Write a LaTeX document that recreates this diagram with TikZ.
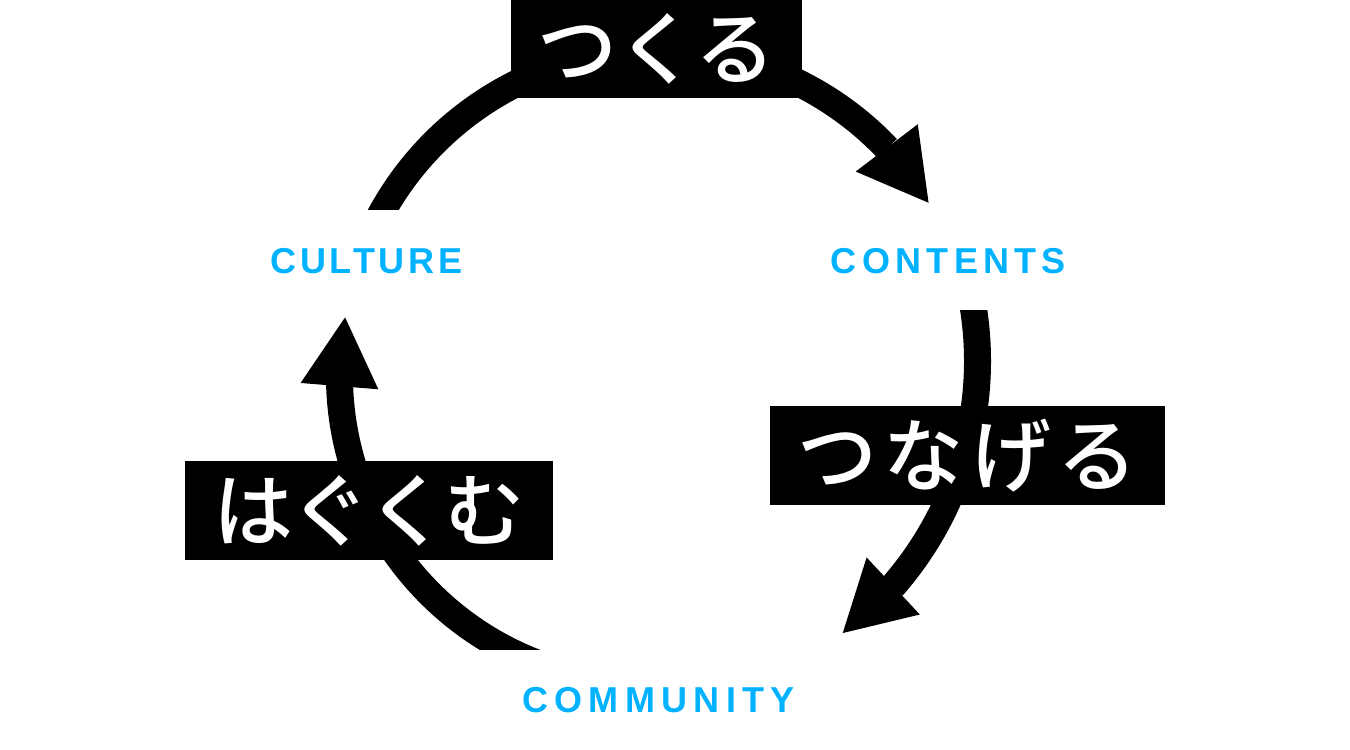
\documentclass[tikz,border=0pt]{standalone}
\usepackage{fontspec}
\usetikzlibrary{arrows.meta,bending}
\newfontfamily\labelfont{Liberation Sans}
\newfontfamily\jpfont{Noto Sans CJK JP Medium}
\definecolor{labelblue}{HTML}{00B2FF}
\tikzset{
  cyclearc/.style={line width=27pt, black,
    -{Triangle[length=69pt,width=78pt,line width=0pt,flex]}},
  stagelabel/.style={fill=white, text=labelblue, inner sep=0pt,
    minimum width=380pt, font=\labelfont\bfseries\fontsize{36}{40}\selectfont},
  actionbox/.style={fill=black, text=white, inner sep=0pt,
    font=\jpfont\fontsize{80}{96}\selectfont}
}
\begin{document}
\begin{tikzpicture}[x=1pt,y=1pt]
\useasboundingbox (0,0) rectangle (1350,750);
% arc centres
\coordinate (ctop) at (658,384);
\coordinate (cright) at (635.5,389);
\coordinate (cleft) at (647.5,374.4);
% arcs
\draw[cyclearc] (ctop) ++(155:316) coordinate (culturestart)
  arc[start angle=155, end angle=31.1, radius=316pt];
\draw[cyclearc] (cright) ++(12:342) coordinate (contentsstart)
  arc[start angle=12, end angle=-52.7, radius=342pt];
\draw[cyclearc] (cleft) ++(-106:308) coordinate (communitystart)
  arc[start angle=-106, end angle=-190.9, radius=308pt];
% stage labels (white boxes hide the arc ends)
\node[stagelabel, minimum height=102pt] (culture) at (366.5,489)
  {\addfontfeature{LetterSpace=10.6}CULTURE};
\node[stagelabel, minimum height=98pt] (contents) at (948.5,489)
  {\addfontfeature{LetterSpace=14.7}CONTENTS};
\node[stagelabel, minimum height=100pt] (community) at (658.5,50)
  {\addfontfeature{LetterSpace=17.7}COMMUNITY};
% action boxes
\node[actionbox, minimum width=291pt, minimum height=98pt] (tsukuru) at (656.5,701) {つくる};
\node[actionbox, minimum width=395pt, minimum height=99pt] (tsunageru) at (967.5,294.5)
  {\addfontfeature{LetterSpace=8.75}つなげる};
\node[actionbox, minimum width=368pt, minimum height=99pt] (hagukumu) at (369,239.5)
  {\addfontfeature{LetterSpace=-3.75}はぐくむ};
\end{tikzpicture}
\end{document}
